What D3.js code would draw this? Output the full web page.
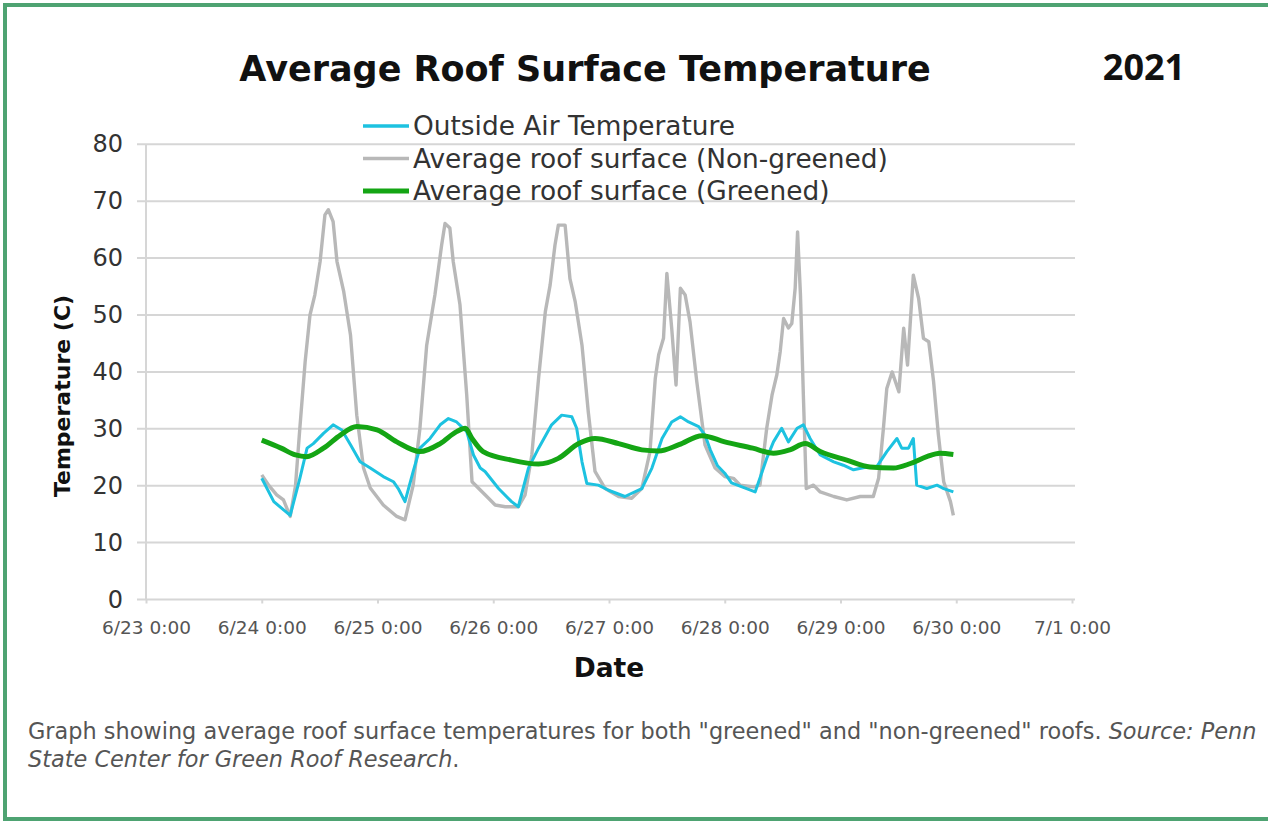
<!DOCTYPE html>
<html>
<head>
<meta charset="utf-8">
<script src="https://d3js.org/d3.v7.min.js"></script>
<style>
  body { margin: 0; background: #fff; }
  svg { display: block; }
</style>
</head>
<body>
<svg id="chart" width="1268" height="823"></svg>
<script>
// hours after 6/24 0:00, temperature in C
var nonGreened = [
  [0,21.9],[1.5,20],[3.1,18.4],[4.5,17.5],[5.9,14.6],[7,20],[7.9,30.1],[9,41.8],[10,50],[11,53.5],
  [12.1,59.4],[13.1,67.6],[13.8,68.5],[14.8,66.4],[15.6,59.4],[17,54.1],[18.4,46.5],[19.7,32.4],
  [21.1,23.1],[22.5,19.6],[25.2,16.6],[28,14.6],[29.7,14.0],[31.4,20.1],[32.8,30.1],[34.2,44.7],
  [35.9,53.5],[37.3,62.3],[38,66.1],[39,65.3],[39.7,59.4],[41.1,51.8],[42.5,35.9],[43.6,20.7],
  [46.3,18.4],[48.4,16.6],[50.5,16.3],[53.2,16.3],[54.6,18.4],[56,25.4],[57.4,38.9],[58.8,50.6],
  [59.8,55.3],[60.8,62.3],[61.5,65.8],[62.9,65.8],[63.9,56.4],[65,52.3],[66.4,44.7],[67.7,33.0],
  [69.1,22.5],[71.2,19.5],[74,18.1],[76.7,17.8],[78.8,19.5],[80.5,26],[81.6,38.9],[82.3,43],
  [83.3,45.9],[84,57.3],[85,47.7],[85.9,37.7],[86.8,54.7],[87.8,53.5],[88.8,48.8],[90.2,38.3],
  [91.9,27.2],[94,23.1],[96,21.6],[97.8,21.3],[99.2,20.1],[102,19.8],[103.3,20.1],[104.7,30.1],
  [105.8,35.9],[106.8,39.5],[107.5,43.6],[108.2,49.4],[109.2,47.7],[109.9,48.5],[110.6,54.7],
  [111.1,64.6],[111.7,53.5],[112.3,35.9],[112.9,19.5],[114.4,20.1],[115.8,18.9],[118.6,18.1],
  [121.3,17.5],[124.1,18.1],[126.8,18.1],[127.9,21.3],[128.9,30.1],[129.6,37.1],[130.7,40],
  [132.1,36.5],[133.1,47.7],[133.9,41.2],[135.1,57],[136.2,52.9],[137.2,45.9],[138.3,45.3],
  [139.3,38.3],[140.3,28.9],[141.4,20.7],[142.8,17.2],[143.4,14.8]
];
var outsideAir = [
  [0,21.3],[2.5,17.2],[4.6,15.7],[5.9,14.8],[7.9,21.3],[9.4,26.6],[10.7,27.4],[12.8,29.2],
  [14.8,30.7],[16.6,29.8],[18.4,27.2],[20.4,24.2],[22.5,23.1],[25.2,21.6],[27.3,20.7],[28.3,19.5],
  [29.7,17.2],[31.4,22.5],[32.8,26.6],[34.9,28.3],[37,30.7],[38.7,31.8],[40.4,31.2],[42.5,29.5],
  [43.9,25.4],[45.3,23.1],[46.3,22.5],[49.1,19.5],[51.8,17.2],[53.2,16.3],[55.3,23.1],[57.4,26.6],
  [60.1,30.7],[62.2,32.4],[64.3,32.1],[65.3,30.1],[66.4,24.2],[67.4,20.4],[69.8,20.1],[71.9,19.2],
  [75.3,18.1],[78.8,19.5],[80.9,23.1],[83,28.3],[85,31.2],[86.8,32.1],[88.5,31.2],[90.6,30.4],
  [91.9,28.9],[93,26.3],[94.5,23.5],[96,22.2],[97.4,20.5],[102.3,18.9],[104.7,24.8],[106.1,27.7],
  [107.8,30.1],[109.2,27.7],[111,30.1],[112.3,30.7],[113.7,28.3],[115.8,25.4],[118.6,24.2],
  [120.6,23.6],[122.7,22.8],[125.5,23.3],[127.5,23.3],[129.6,26],[131.7,28.3],[132.7,26.6],
  [134.1,26.6],[135.1,28.3],[135.8,20.1],[137.9,19.5],[140,20.1],[141.4,19.5],[143.4,18.9]
];
var greened = [
  [0,28],[4,26.6],[7,25.4],[9.3,25.1],[12.8,26.6],[16.3,28.9],[19.7,30.4],[23.9,29.8],[28,27.7],
  [32.8,26],[37,27.4],[40.4,29.5],[42.2,30.1],[43.6,28.3],[45.9,26],[51.8,24.5],[57.4,23.8],
  [61.5,24.8],[65.7,27.4],[69.1,28.3],[74,27.4],[78.8,26.3],[82.3,26.1],[86.5,27.2],[91.3,28.8],
  [96,27.7],[101.8,26.6],[106.1,25.7],[109.5,26.3],[112.7,27.4],[115.8,26],[121.3,24.5],
  [126.1,23.3],[131,23.1],[134.5,23.9],[137.9,25.1],[140.6,25.7],[143.4,25.5]
];
var seriesNames = ["Outside Air Temperature", "Average roof surface (Non-greened)", "Average roof surface (Greened)"];
var yTicks = [0,10,20,30,40,50,60,70,80];
var xTickDays = [23,24,25,26,27,28,29,30,31]; // 6/31 -> 7/1

var start = new Date(2021, 5, 24, 0, 0);
function toDate(h) { return new Date(start.getTime() + h * 3600 * 1000); }

var svg = d3.select("#chart");

// green frame
svg.append("rect").attr("x", 0).attr("y", 0).attr("width", 1268).attr("height", 823).attr("fill", "#fff");
svg.append("path")
  .attr("d", "M1270,5 L5,5 L5,819 L1270,819")
  .attr("fill", "none").attr("stroke", "#4ea372").attr("stroke-width", 4);

var pLeft = 146, pRight = 1072, pTop = 144.3, pBottom = 599.5;

var x = d3.scaleTime()
  .domain([new Date(2021, 5, 23), new Date(2021, 6, 1)])
  .range([pLeft, pRight]);
var y = d3.scaleLinear().domain([0, 80]).range([pBottom, pTop]);

// grid
svg.append("g").selectAll("line").data(yTicks).enter().append("line")
  .attr("x1", pLeft - 9).attr("x2", pRight + 3)
  .attr("y1", function(d) { return y(d); }).attr("y2", function(d) { return y(d); })
  .attr("stroke", "#d6d6d6").attr("stroke-width", 2);
svg.append("line").attr("x1", pLeft).attr("x2", pLeft).attr("y1", pTop).attr("y2", pBottom)
  .attr("stroke", "#d6d6d6").attr("stroke-width", 2);

// y axis labels
var yAxis = svg.append("g").attr("transform", "translate(" + pLeft + ",0)")
  .call(d3.axisLeft(y).tickValues(yTicks).tickSize(0).tickPadding(23));
yAxis.select(".domain").remove();
yAxis.selectAll("text").attr("font-family", "DejaVu Sans").attr("font-size", 24).attr("fill", "#333");

// x axis
var xAxis = svg.append("g").attr("transform", "translate(0," + pBottom + ")")
  .call(d3.axisBottom(x)
    .tickValues(xTickDays.map(function(d) { return new Date(2021, 5, d); }))
    .tickFormat(d3.timeFormat("%-m/%-d %-H:%M"))
    .tickSize(4).tickPadding(17));
xAxis.select(".domain").remove();
xAxis.selectAll("line").attr("stroke", "#d6d6d6").attr("stroke-width", 2);
xAxis.selectAll("text").attr("font-family", "DejaVu Sans").attr("font-size", 18.5).attr("fill", "#555");

// lines
var line = d3.line()
  .x(function(d) { return x(toDate(d[0])); })
  .y(function(d) { return y(d[1]); });
var smooth = d3.line()
  .x(function(d) { return x(toDate(d[0])); })
  .y(function(d) { return y(d[1]); })
  .curve(d3.curveMonotoneX);

svg.append("path").datum(nonGreened).attr("d", line)
  .attr("fill", "none").attr("stroke", "#b8b8b8").attr("stroke-width", 3.4).attr("stroke-linejoin", "round");
svg.append("path").datum(outsideAir).attr("d", line)
  .attr("fill", "none").attr("stroke", "#1dc2e0").attr("stroke-width", 3).attr("stroke-linejoin", "round");
svg.append("path").datum(greened).attr("d", smooth)
  .attr("fill", "none").attr("stroke", "#14a514").attr("stroke-width", 5).attr("stroke-linejoin", "round");

// legend
var legColors = ["#1dc2e0", "#b8b8b8", "#14a514"];
var legWidths = [3.4, 3.4, 5];
var leg = svg.append("g").selectAll("g").data(seriesNames).enter().append("g")
  .attr("transform", function(d, i) { return "translate(363," + (126 + i * 32.5) + ")"; });
leg.append("line").attr("x1", 0).attr("x2", 46)
  .attr("stroke", function(d, i) { return legColors[i]; })
  .attr("stroke-width", function(d, i) { return legWidths[i]; });
leg.append("text").attr("x", 50).attr("dy", "0.35em")
  .attr("font-family", "DejaVu Sans").attr("font-size", 26.4).attr("fill", "#333")
  .text(function(d) { return d; });

// titles
svg.append("text").attr("x", 585).attr("y", 81).attr("text-anchor", "middle")
  .attr("font-family", "DejaVu Sans").attr("font-weight", "bold").attr("font-size", 35).attr("fill", "#111")
  .text("Average Roof Surface Temperature");
svg.append("text").attr("x", 1144).attr("y", 80).attr("text-anchor", "middle")
  .attr("font-family", "Open Sans").attr("font-weight", "bold").attr("font-size", 36).attr("fill", "#111")
  .text("2021");
svg.append("text").attr("transform", "translate(70,396) rotate(-90)").attr("text-anchor", "middle")
  .attr("font-family", "DejaVu Sans").attr("font-weight", "bold").attr("font-size", 22).attr("fill", "#111")
  .text("Temperature (C)");
svg.append("text").attr("x", 609).attr("y", 677).attr("text-anchor", "middle")
  .attr("font-family", "DejaVu Sans").attr("font-weight", "bold").attr("font-size", 26.5).attr("fill", "#111")
  .text("Date");

// caption
var cap = svg.append("text").attr("font-family", "DejaVu Sans").attr("font-size", 22.4).attr("fill", "#555");
cap.append("tspan").attr("x", 28).attr("y", 739)
  .text("Graph showing average roof surface temperatures for both \"greened\" and \"non-greened\" roofs. ");
cap.append("tspan").attr("font-style", "italic").text("Source: Penn");
cap.append("tspan").attr("x", 28).attr("y", 767).attr("font-style", "italic").text("State Center for Green Roof Research");
cap.append("tspan").text(".");
</script>
</body>
</html>
